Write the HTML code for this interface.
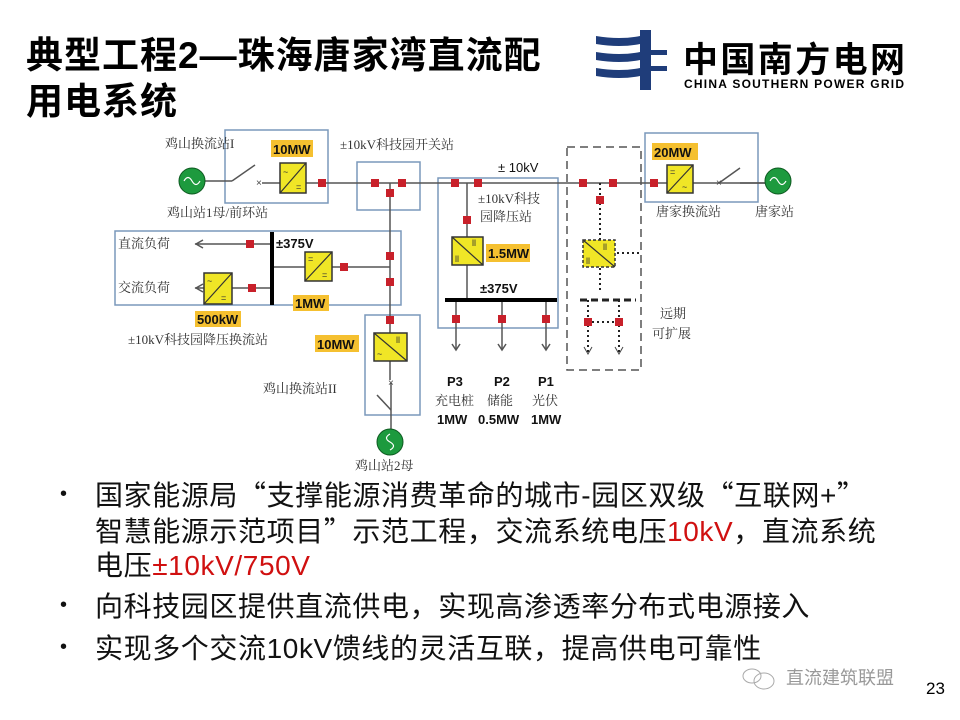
<!DOCTYPE html>
<html><head><meta charset="utf-8"><style>
html,body{margin:0;padding:0;background:#fff;}
body{width:960px;height:720px;position:relative;overflow:hidden;font-family:"Liberation Sans","Noto Sans CJK SC",sans-serif;}
.t{position:absolute;font-weight:bold;font-size:37px;color:#000;left:26px;letter-spacing:1px;}
.b{position:absolute;left:60px;font-size:28px;color:#111;line-height:34px;white-space:nowrap;letter-spacing:0.6px;}
.b span.d{position:absolute;left:0;font-size:20px;}
.q{font-family:"Noto Sans CJK SC",sans-serif;}
.r{color:#d01010;}
</style></head><body>
<div class="t" style="top:25px;">典型工程2—珠海唐家湾直流配</div>
<div class="t" style="top:71px;">用电系统</div>
<svg width="960" height="720" style="position:absolute;left:0;top:0" xmlns="http://www.w3.org/2000/svg">
<g fill="#1f3d7a">
<rect x="640" y="30" width="11" height="60"/>
<path d="M596 36 Q620 40 640 36 v8 Q620 48 596 44 Z"/>
<path d="M596 52 Q620 56 640 52 v8 Q620 64 596 60 Z"/>
<path d="M596 68 Q620 72 640 68 v8 Q620 80 596 76 Z"/>
<rect x="651" y="50" width="16" height="5"/><rect x="651" y="66" width="16" height="5"/>
</g>
<text x="683" y="72" font-family="Noto Sans CJK SC,sans-serif" font-weight="bold" font-size="35" fill="#000" textLength="222">中国南方电网</text>
<text x="684" y="88" font-family="Liberation Sans,sans-serif" font-weight="bold" font-size="12" fill="#000" textLength="220">CHINA SOUTHERN POWER GRID</text>
<g font-family="Liberation Serif,Noto Serif CJK SC,serif" font-size="13" fill="#333">
<g fill="none" stroke="#7a98bb" stroke-width="1.5">
<rect x="225" y="130" width="103" height="73"/>
<rect x="357" y="162" width="63" height="48"/>
<rect x="115" y="231" width="286" height="74"/>
<rect x="365" y="315" width="55" height="100"/>
<rect x="438" y="178" width="120" height="150"/>
<rect x="645" y="133" width="113" height="69"/>
</g>
<rect x="567" y="147" width="74" height="223" fill="none" stroke="#555" stroke-width="1.5" stroke-dasharray="8,5"/>
<g stroke="#555" stroke-width="1.5" fill="none">
<line x1="205" y1="181" x2="232" y2="181"/><line x1="232" y1="181" x2="255" y2="165"/>
<line x1="262" y1="183" x2="770" y2="183"/>
<line x1="390" y1="183" x2="390" y2="380"/>
<line x1="195" y1="244" x2="272" y2="244"/><polyline points="203,240 196,244 203,248"/>
<line x1="195" y1="288" x2="272" y2="288"/><polyline points="203,284 196,288 203,292"/>
<line x1="272" y1="267" x2="390" y2="267"/>
<line x1="391" y1="383" x2="391" y2="430"/><line x1="377" y1="395" x2="391" y2="410"/>
<line x1="467" y1="183" x2="467" y2="300"/>
<line x1="456" y1="300" x2="456" y2="350"/><line x1="502" y1="300" x2="502" y2="350"/><line x1="546" y1="300" x2="546" y2="350"/>
<polyline points="452,344 456,350 460,344"/><polyline points="498,344 502,350 506,344"/><polyline points="542,344 546,350 550,344"/>
<line x1="719" y1="183" x2="740" y2="168"/><line x1="740" y1="183" x2="765" y2="183"/>
</g>
<line x1="272" y1="232" x2="272" y2="305" stroke="#000" stroke-width="4"/>
<line x1="445" y1="300" x2="557" y2="300" stroke="#000" stroke-width="4"/>
<g stroke="#222" stroke-width="2" stroke-dasharray="2,3" fill="none">
<line x1="600" y1="183" x2="600" y2="293"/><line x1="617" y1="253" x2="640" y2="253"/>
<line x1="588" y1="300" x2="588" y2="352"/><line x1="619" y1="300" x2="619" y2="352"/>
<line x1="592" y1="322" x2="615" y2="322"/>
</g>
<line x1="580" y1="300" x2="636" y2="300" stroke="#222" stroke-width="3" stroke-dasharray="7,4"/>
<g fill="none" stroke="#444"><polyline points="584,347 588,354 592,347"/><polyline points="615,347 619,354 623,347"/></g>
<g font-family="Liberation Sans" font-size="10" fill="#444"><text x="256" y="186">×</text><text x="388" y="386">×</text><text x="716" y="186">×</text></g>
<g fill="#1d9a3e" stroke="#0d5a20">
<circle cx="192" cy="181" r="13"/><circle cx="390" cy="442" r="13"/><circle cx="778" cy="181" r="13"/>
</g>
<g stroke="#fff" fill="none" stroke-width="1.2">
<path d="M184 181 q4 -7 8 0 t8 0"/><path d="M390 434 q-7 4 0 8 t0 8"/><path d="M770 181 q4 -7 8 0 t8 0"/>
</g>
<g fill="#f0e626" stroke="#333" stroke-width="1.5">
<rect x="280" y="163" width="26" height="30"/><rect x="305" y="252" width="27" height="29"/>
<rect x="204" y="273" width="28" height="31"/><rect x="374" y="333" width="33" height="28"/>
<rect x="452" y="237" width="31" height="28"/><rect x="667" y="165" width="26" height="28"/>
</g>
<rect x="583" y="240" width="32" height="27" fill="#f0e626" stroke="#333" stroke-width="1.5" stroke-dasharray="3,2"/>
<g stroke="#333" stroke-width="1.2">
<line x1="280" y1="193" x2="306" y2="163"/><line x1="305" y1="281" x2="332" y2="252"/>
<line x1="204" y1="304" x2="232" y2="273"/><line x1="374" y1="333" x2="407" y2="361"/>
<line x1="452" y1="237" x2="483" y2="265"/><line x1="667" y1="193" x2="693" y2="165"/>
<line x1="583" y1="240" x2="615" y2="267"/>
</g>
<g font-family="Liberation Sans" font-size="9" fill="#333">
<text x="283" y="175">~</text><text x="296" y="190">=</text>
<text x="308" y="262">=</text><text x="322" y="278">=</text>
<text x="207" y="284">~</text><text x="221" y="301">=</text>
<text x="396" y="343">ll</text><text x="377" y="357">~</text>
<text x="472" y="246">ll</text><text x="455" y="262">ll</text>
<text x="670" y="175">=</text><text x="682" y="190">~</text>
<text x="603" y="250">ll</text><text x="586" y="264">ll</text>
</g>
<g fill="#c8202a">
<rect x="318" y="179" width="8" height="8"/><rect x="371" y="179" width="8" height="8"/><rect x="398" y="179" width="8" height="8"/><rect x="386" y="189" width="8" height="8"/>
<rect x="246" y="240" width="8" height="8"/><rect x="248" y="284" width="8" height="8"/><rect x="340" y="263" width="8" height="8"/>
<rect x="386" y="252" width="8" height="8"/><rect x="386" y="278" width="8" height="8"/><rect x="386" y="316" width="8" height="8"/>
<rect x="451" y="179" width="8" height="8"/><rect x="474" y="179" width="8" height="8"/><rect x="463" y="216" width="8" height="8"/>
<rect x="452" y="315" width="8" height="8"/><rect x="498" y="315" width="8" height="8"/><rect x="542" y="315" width="8" height="8"/>
<rect x="579" y="179" width="8" height="8"/><rect x="609" y="179" width="8" height="8"/><rect x="596" y="196" width="8" height="8"/>
<rect x="584" y="318" width="8" height="8"/><rect x="615" y="318" width="8" height="8"/><rect x="650" y="179" width="8" height="8"/>
</g>
<g fill="#f5c030">
<rect x="271" y="140" width="42" height="17"/><rect x="293" y="295" width="36" height="16"/><rect x="195" y="311" width="46" height="16"/>
<rect x="315" y="335" width="44" height="17"/><rect x="486" y="244" width="44" height="18"/><rect x="652" y="143" width="46" height="17"/>
</g>
<g font-family="Liberation Sans" font-weight="bold" font-size="13" fill="#111">
<text x="273" y="154">10MW</text><text x="295" y="308">1MW</text><text x="197" y="324">500kW</text>
<text x="317" y="349">10MW</text><text x="488" y="258">1.5MW</text><text x="654" y="157">20MW</text>
<text x="276" y="248">±375V</text><text x="480" y="293">±375V</text>
<text x="447" y="386">P3</text><text x="494" y="386">P2</text><text x="538" y="386">P1</text>
<text x="437" y="424">1MW</text><text x="478" y="424">0.5MW</text><text x="531" y="424">1MW</text>
<text x="498" y="172" font-weight="normal">± 10kV</text>
</g>
<text x="165" y="148">鸡山换流站I</text>
<text x="167" y="217">鸡山站1母/前环站</text>
<text x="340" y="149">±10kV科技园开关站</text>
<text x="118" y="248">直流负荷</text>
<text x="118" y="292">交流负荷</text>
<text x="128" y="344">±10kV科技园降压换流站</text>
<text x="263" y="393">鸡山换流站II</text>
<text x="355" y="470">鸡山站2母</text>
<text x="478" y="203">±10kV科技</text>
<text x="480" y="221">园降压站</text>
<text x="435" y="405">充电桩</text><text x="487" y="405">储能</text><text x="532" y="405">光伏</text>
<text x="660" y="318">远期</text><text x="652" y="338">可扩展</text>
<text x="656" y="216">唐家换流站</text><text x="755" y="216">唐家站</text>
</g>
<g fill="none" stroke="#aaa"><ellipse cx="752" cy="676" rx="9" ry="7"/><ellipse cx="764" cy="681" rx="10" ry="8"/></g>
<text x="786" y="684" font-family="Noto Sans CJK SC,sans-serif" font-size="18" fill="#999">直流建筑联盟</text>
<text x="926" y="694" font-family="Liberation Sans,sans-serif" font-size="17" fill="#000">23</text>
</svg>
<div class="b" style="top:477px;"><span class="d">•</span><div style="margin-left:35px;">国家能源局<span class="q">“</span>支撑能源消费革命的城市-园区双级<span class="q">“</span>互联网+<span class="q">”</span><br>智慧能源示范项目<span class="q">”</span>示范工程<span class="q">，</span>交流系统电压<span class="r">10kV</span><span class="q">，</span>直流系统<br>电压<span class="r">±10kV/750V</span></div></div>
<div class="b" style="top:588px;"><span class="d">•</span><div style="margin-left:35px;">向科技园区提供直流供电<span class="q">，</span>实现高渗透率分布式电源接入</div></div>
<div class="b" style="top:630px;"><span class="d">•</span><div style="margin-left:35px;">实现多个交流10kV馈线的灵活互联<span class="q">，</span>提高供电可靠性</div></div>
</body></html>
